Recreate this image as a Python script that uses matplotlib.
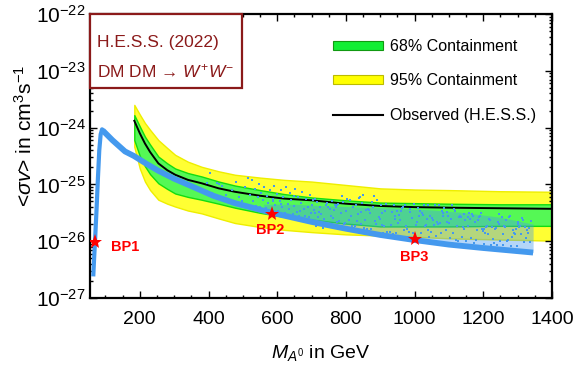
import numpy as np
import matplotlib
matplotlib.use("Agg")
import matplotlib.pyplot as plt
from matplotlib.patches import Patch, Rectangle
from matplotlib.lines import Line2D
from matplotlib.ticker import LogLocator, MultipleLocator, NullFormatter, FixedLocator

plt.rcParams['font.family'] = ['Liberation Sans', 'DejaVu Sans']
plt.rcParams['mathtext.fontset'] = 'custom'
plt.rcParams['mathtext.rm'] = 'Liberation Sans'
plt.rcParams['mathtext.it'] = 'Liberation Sans:italic'
plt.rcParams['mathtext.bf'] = 'Liberation Sans:bold'

# H.E.S.S. limits (log10 of <sigma v>)
band_m = [184, 200, 215, 230, 254, 280, 303, 340, 380, 430, 477, 550, 620, 700, 800, 900, 1000, 1100, 1250, 1400]
yel_hi = [-23.6, -23.77, -23.92, -24.04, -24.22, -24.36, -24.48, -24.6, -24.69, -24.77, -24.83, -24.88, -24.92, -24.95, -25.01, -25.07, -25.09, -25.1, -25.12, -25.13]
grn_hi = [-23.78, -23.98, -24.16, -24.3, -24.51, -24.63, -24.72, -24.8, -24.86, -24.95, -25.02, -25.1, -25.17, -25.23, -25.28, -25.32, -25.33, -25.34, -25.35, -25.35]
observed = [-23.88, -24.1, -24.28, -24.43, -24.63, -24.75, -24.83, -24.92, -24.98, -25.07, -25.13, -25.2, -25.25, -25.28, -25.34, -25.38, -25.4, -25.41, -25.42, -25.43]
grn_lo = [-24.22, -24.5, -24.68, -24.82, -24.98, -25.08, -25.16, -25.22, -25.27, -25.34, -25.41, -25.5, -25.57, -25.62, -25.69, -25.74, -25.74, -25.74, -25.73, -25.73]
yel_lo = [-24.34, -24.72, -24.95, -25.1, -25.27, -25.34, -25.39, -25.46, -25.51, -25.6, -25.68, -25.75, -25.8, -25.84, -25.88, -25.9, -25.92, -25.95, -25.97, -25.99]

# model relic curve
rise_m = [64.5, 67, 70, 74, 78, 82, 86, 90, 94]
rise_v = [-26.62, -26.3, -25.95, -25.45, -24.9, -24.4, -24.12, -24.03, -24.05]
fall_m = [92, 120, 157, 183, 220, 254, 300, 350, 414, 477, 584, 700, 800, 900, 1000, 1100, 1200, 1345]
fall_v = [-24.05, -24.22, -24.42, -24.5, -24.64, -24.76, -24.9, -25.03, -25.2, -25.33, -25.5, -25.66, -25.78, -25.89, -25.98, -26.06, -26.12, -26.2]

# dense part of the scan
cloud_m = [560, 650, 750, 850, 950, 1050, 1150, 1250, 1345]
cloud_hi = [-25.35, -25.35, -25.38, -25.4, -25.42, -25.45, -25.5, -25.58, -25.7]
cloud_lo = [-25.47, -25.59, -25.72, -25.84, -25.94, -26.02, -26.09, -26.15, -26.2]

# scan points above the relic curve
scat_m = [362, 380, 395, 405, 410, 424, 430, 440, 452, 468, 480, 490, 498, 505, 515,
          521, 526, 529, 534, 539, 543, 546, 551, 554, 559, 563, 567, 571, 574, 579, 584, 587, 592, 595, 599,
          603, 607, 611, 613, 618, 622, 625, 631, 633, 637, 641, 645, 649, 653, 657, 661, 664, 669, 672, 677,
          681, 685, 689, 692, 695, 699, 612, 648, 588, 666,
          701, 703, 706, 709, 711, 714, 717, 719, 722, 725, 728, 731, 733, 736, 739, 742, 745, 747, 750, 753,
          756, 759, 761, 764, 767, 770, 773, 775, 778, 781, 784, 787, 789, 792, 795, 798, 801, 803, 806, 809,
          812, 815, 817, 820, 823, 826, 829, 831, 834, 837, 840, 843, 845, 848, 851, 854, 857, 859, 862, 865,
          868, 871, 873, 876, 879, 882, 885, 887, 890, 895,
          898, 901, 904, 906, 909, 912, 914, 917, 920, 923, 925, 928, 931, 933, 936, 939, 942, 944, 947, 950,
          953, 955, 958, 961, 964, 966, 969, 972, 975, 977, 980, 983, 986, 988, 991, 994, 997, 1002, 1005, 1007,
          1010, 1013, 1016, 1018, 1021, 1024, 1027, 1029, 1032, 1035, 1038, 1040, 1043, 1046, 1049, 1051, 1054,
          1057, 1060, 1062, 1065, 1068, 1071, 1073, 1076, 1079, 1082, 1084, 1087, 1090, 1093, 1095, 1098, 1101,
          1104, 1106, 1109, 1112, 1115, 1118,
          1121, 1124, 1126, 1129, 1132, 1134, 1137, 1140, 1143, 1145, 1148, 1151, 1154, 1156, 1159, 1162, 1165,
          1167, 1170, 1173, 1176, 1178, 1181, 1184, 1187, 1189, 1192, 1195, 1198, 1201, 1203, 1206, 1209, 1212,
          1214, 1217, 1220, 1223, 1225, 1228, 1231, 1234, 1236, 1239, 1242, 1245, 1247, 1250, 1253, 1256, 1258,
          1261, 1264, 1267, 1269, 1272, 1275, 1278, 1280, 1283, 1286, 1289, 1291, 1294, 1297, 1300, 1302, 1305,
          1308, 1311, 1313, 1316, 1319, 1322, 1324, 1327, 1330, 1333, 1336, 1340]
scat_v = [-25.05, -25.12, -24.98, -24.8, -25.15, -24.97, -25.0, -25.02, -25.18, -25.1, -24.95, -25.22, -25.3, -25.05, -24.89,
          -25.18, -24.92, -25.3, -25.08, -25.38, -25.22, -25.0, -25.4, -25.15, -25.28, -25.05, -25.42, -25.2, -25.33, -25.1,
          -25.45, -25.25, -25.02, -25.37, -25.17, -25.46, -25.3, -25.1, -25.4, -25.22, -25.5, -25.05, -25.34, -25.44, -25.15,
          -25.27, -25.52, -25.38, -25.08, -25.48, -25.22, -25.56, -25.32, -25.14, -25.43, -25.55, -25.26, -25.4, -25.58,
          -25.18, -25.5, -25.35, -25.2, -25.3, -25.47,
          -25.37, -25.27, -25.45, -25.25, -25.51, -25.73, -25.31, -25.58, -25.49, -25.4,
          -25.52, -25.68, -25.76, -25.61, -25.74, -25.36, -25.33, -25.39, -25.7, -25.43,
          -25.56, -25.3, -25.59, -25.45, -25.37, -25.4, -25.67, -25.36, -25.34, -25.64,
          -25.77, -25.51, -25.21, -25.31, -25.7, -25.68, -25.46, -25.25, -25.76, -25.62,
          -25.27, -25.55, -25.74, -25.39, -25.77, -25.73, -25.37, -25.64, -25.52, -25.24,
          -25.22, -25.49, -25.7, -25.33, -25.19, -25.76, -25.62, -25.45, -25.78, -25.43,
          -25.45, -25.51, -25.79, -25.31, -25.39, -25.21, -25.64, -25.7, -25.27, -25.58,
          -25.61, -25.36, -25.72, -25.5, -25.86, -25.74, -25.47, -25.34, -25.84, -25.91,
          -25.9, -25.83, -25.71, -25.49, -25.87, -25.37, -25.55, -25.61, -25.86, -25.46,
          -25.68, -25.53, -25.62, -25.47, -25.42, -25.4, -25.8, -25.36, -25.74, -25.78,
          -25.93, -25.84, -25.49, -25.43, -25.59, -25.86, -25.34, -25.87, -25.72, -25.66,
          -25.42, -25.55, -25.47, -25.86, -25.5, -25.53, -25.37, -25.74, -25.71, -25.61,
          -25.8, -25.36, -25.93, -25.55, -25.84, -25.59, -25.62, -25.72, -25.36, -25.91,
          -25.66, -25.69, -25.37, -25.68, -25.86, -25.47, -25.5, -25.55, -25.42, -25.8,
          -25.49, -25.66, -25.56, -25.68, -25.94, -25.61, -25.36, -25.86, -25.43, -25.47,
          -25.98, -25.73, -26.0, -25.57, -25.55, -25.58, -25.92, -25.75, -25.79, -25.52,
          -25.63, -26.0, -25.73, -25.57, -25.51, -25.61, -25.94, -25.52, -25.55, -26.04,
          -25.67, -25.98, -25.81, -25.63, -25.57, -25.55, -25.51, -25.79, -25.82, -25.78,
          -26.05, -25.86, -25.75, -25.73, -25.88, -25.61, -25.63, -26.06, -25.75, -25.97,
          -26.04, -25.79, -25.76, -26.06, -25.67, -25.52, -25.69, -25.99, -25.57, -26.07,
          -25.88, -25.73, -25.75, -25.63, -26.0, -25.98, -25.57, -25.55, -26.08, -25.92,
          -25.81, -25.86, -25.88, -25.79, -26.09, -25.69, -25.67, -25.75, -25.73, -25.88,
          -25.6, -25.63, -26.01, -25.75, -25.94, -25.81, -25.86, -25.76, -26.02, -25.64]

bp_names = ['BP1', 'BP2', 'BP3']
bp_m = [71, 584, 1000]
bp_v = [-26.02, -25.52, -25.97]
bp_lab_m = [158, 579, 1000]
bp_lab_v = [-26.1, -25.8, -26.28]

y_ticks = [1e-27, 1e-26, 1e-25, 1e-24, 1e-23, 1e-22]

blue = '#4499ee'
green_fill = '#55f855'
green_edge = '#11dd11'
yellow_fill = '#ffff33'
yellow_edge = '#eeee00'
dark_red = '#8b1a1a'

p = lambda v: 10 ** np.asarray(v, dtype=float)

fig = plt.figure(figsize=(5.76, 3.66), dpi=100)
ax = fig.add_axes([90 / 576, 1 - 298 / 366, 462 / 576, 284 / 366])

ax.fill_between(band_m, p(yel_lo), p(yel_hi), color=yellow_fill, edgecolor=yellow_edge, lw=1, zorder=1)
ax.fill_between(band_m, p(grn_lo), p(grn_hi), color=green_fill, edgecolor=green_edge, lw=1, zorder=2)
ax.plot(band_m, p(observed), color='black', lw=1.4, zorder=3)

ax.fill_between(cloud_m, p(cloud_lo), p(cloud_hi), color=blue, alpha=0.4, lw=0, zorder=3.5)
ax.plot(rise_m, p(rise_v), color=blue, lw=3, solid_capstyle='butt', zorder=4)
ax.plot(fall_m, p(fall_v), color=blue, lw=4.2, solid_capstyle='butt', zorder=4)
ax.scatter(scat_m, p(scat_v), s=4, marker='s', color=blue, linewidths=0, zorder=4)

ax.plot(bp_m, p(bp_v), linestyle='none', marker='*', color='red', markersize=11, markeredgewidth=0, zorder=6)
for name, m, v in zip(bp_names, bp_lab_m, bp_lab_v):
    ax.text(m, 10 ** v, name, color='red', fontsize=10.5, fontweight='bold', ha='center', va='center', zorder=6)

ax.set_xlim(55, 1400)
ax.set_ylim(1e-27, 1e-22)
ax.set_yscale('log')
ax.xaxis.set_major_locator(MultipleLocator(200))
ax.xaxis.set_minor_locator(MultipleLocator(50))
ax.yaxis.set_major_locator(FixedLocator(y_ticks))
ax.yaxis.set_minor_locator(LogLocator(base=10, subs=np.arange(2, 10), numticks=10))
ax.yaxis.set_minor_formatter(NullFormatter())
ax.tick_params(which='both', direction='in', top=True, right=True, width=1)
ax.tick_params(which='major', length=5)
ax.tick_params(which='minor', length=2.5)
ax.tick_params(axis='x', labelsize=14, pad=9)
ax.tick_params(axis='y', labelsize=15, pad=3)
for s in ax.spines.values():
    s.set_linewidth(1.6)

ax.set_xlabel(r'$M_{A^0}$ in GeV', fontsize=14, labelpad=11)
ax.set_ylabel(r'<$\sigma v$> in cm$^3$s$^{-1}$', fontsize=15.2)
ax.yaxis.set_label_coords(-0.118, 0.57)

# label box
ax.add_patch(Rectangle((0, 0.739), 0.329, 0.261, transform=ax.transAxes, facecolor='white',
                       edgecolor=dark_red, lw=1.6, zorder=7, clip_on=False))
ax.text(0.015, 0.901, 'H.E.S.S. (2022)', transform=ax.transAxes, color=dark_red, fontsize=12.5,
        ha='left', va='center', zorder=8)
ax.text(0.015, 0.799, r'DM DM → $W^{+}W^{-}$', transform=ax.transAxes, color=dark_red, fontsize=12.5,
        ha='left', va='center', zorder=8)

handles = [Patch(facecolor='#11ee33', edgecolor='#119911', lw=0.8),
           Patch(facecolor='#ffff00', edgecolor='#bbbb00', lw=0.8),
           Line2D([], [], color='black', lw=1.5)]
labels = ['68% Containment', '95% Containment', 'Observed (H.E.S.S.)']
fig.legend(handles, labels, loc='upper left', bbox_to_anchor=(333 / 576, 1 - 39 / 366),
           frameon=False, fontsize=11.5, handlelength=3.1, handleheight=0.5, handletextpad=0.5,
           labelspacing=1.22, borderpad=0, borderaxespad=0)

fig.savefig('out.png', dpi=100)
